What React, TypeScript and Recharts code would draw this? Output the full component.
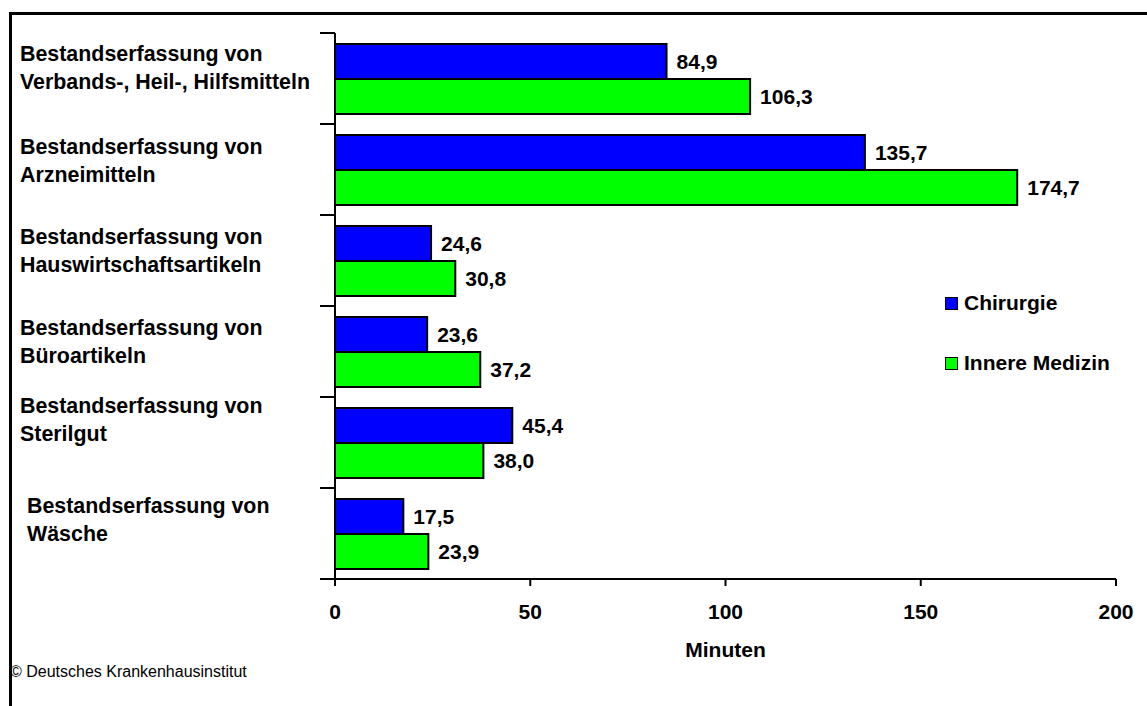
import { Bar, BarChart, LabelList, Legend, XAxis, YAxis } from 'recharts'

const categoryHead = 'Bestandserfassung von'
const categoryNames = ['Verbands-, Heil-, Hilfsmitteln', 'Arzneimitteln', 'Hauswirtschaftsartikeln', 'Büroartikeln', 'Sterilgut', 'Wäsche']
const chirurgie = [84.9, 135.7, 24.6, 23.6, 45.4, 17.5]
const innereMedizin = [106.3, 174.7, 30.8, 37.2, 38.0, 23.9]
const xTicks = [0, 50, 100, 150, 200]

const series = [
  { key: 'chirurgie', name: 'Chirurgie', color: '#0000ff' },
  { key: 'innere', name: 'Innere Medizin', color: '#00ff00' },
]

const data = categoryNames.map((name, i) => ({ name, chirurgie: chirurgie[i], innere: innereMedizin[i] }))

const W = 1147
const H = 706
const TOP = 33
const BOTTOM = 127
const BAND = (H - TOP - BOTTOM) / data.length
const FONT = '"Liberation Sans", Arial, sans-serif'

// the labels in the original are not quite centred in their bands
const labelDy = [0, 2, 1, 1, -12, -3]
const labelDx = [0, 0, 0, 0, 0, 7]

const fmt = (v: any) => Number(v).toFixed(1).replace('.', ',')

function CategoryTick(props: any) {
  const { x, y, payload, index } = props
  const top = y - BAND / 2
  const base = top + 28 + labelDy[index]
  return (
    <g>
      <line x1={x - 15} x2={x} y1={top} y2={top} stroke="#000" strokeWidth={2} />
      {index === data.length - 1 && <line x1={x - 15} x2={x} y1={y + BAND / 2} y2={y + BAND / 2} stroke="#000" strokeWidth={2} />}
      <text x={20 + labelDx[index]} y={base} fontFamily={FONT} fontSize={21.4} fontWeight="bold" fill="#000">
        <tspan x={20 + labelDx[index]} y={base}>{categoryHead}</tspan>
        <tspan x={20 + labelDx[index]} y={base + 28}>{payload.value}</tspan>
      </text>
    </g>
  )
}

function LegendBox() {
  return (
    <div style={{ fontFamily: FONT, fontSize: 21, fontWeight: 'bold' }}>
      {series.map((s, i) => (
        <div key={s.key} style={{ display: 'flex', alignItems: 'center', height: 16, marginBottom: i === 0 ? 44 : 0 }}>
          <span style={{ width: 11, height: 11, background: s.color, border: '1.5px solid #000', marginRight: 6 }} />
          <span>{s.name}</span>
        </div>
      ))}
    </div>
  )
}

export default function App() {
  return (
    <div style={{ position: 'absolute', left: 0, top: 0, width: W, height: H, background: '#fff', overflow: 'hidden' }}>
      <div style={{ position: 'absolute', left: 9, top: 12, width: W, height: H, borderTop: '3px solid #000', borderLeft: '3px solid #000' }} />
      <BarChart
        width={W}
        height={H}
        data={data}
        layout="vertical"
        margin={{ top: TOP, right: 31, bottom: 0, left: 0 }}
        barCategoryGap="12%"
        barGap={0}
      >
        <XAxis
          type="number"
          domain={[0, 200]}
          ticks={xTicks}
          height={BOTTOM}
          stroke="#000"
          strokeWidth={2}
          tickSize={7}
          tickMargin={18}
          tick={{ fill: '#000', fontSize: 21, fontWeight: 'bold', fontFamily: FONT }}
          label={{ value: 'Minuten', position: 'insideBottom', offset: 49, fill: '#000', fontSize: 21, fontWeight: 'bold', fontFamily: FONT }}
        />
        <YAxis
          type="category"
          dataKey="name"
          width={335}
          stroke="#000"
          strokeWidth={2}
          tickLine={false}
          tickSize={0}
          tickMargin={0}
          tick={<CategoryTick />}
          interval={0}
        />
        <Legend
          layout="vertical"
          align="center"
          verticalAlign="middle"
          wrapperStyle={{ left: 945, top: 295, width: 200 }}
          content={<LegendBox />}
        />
        {series.map((s) => (
          <Bar key={s.key} dataKey={s.key} name={s.name} fill={s.color} stroke="#000" strokeWidth={2} isAnimationActive={false}>
            <LabelList dataKey={s.key} position="right" offset={10} formatter={fmt} fill="#000" fontSize={21} fontWeight="bold" fontFamily={FONT} />
          </Bar>
        ))}
      </BarChart>
      <svg style={{ position: 'absolute', left: 0, top: 0 }} width={300} height={H}>
        <text x={10} y={677} fontFamily={FONT} fontSize={16} fill="#000">© Deutsches Krankenhausinstitut</text>
      </svg>
    </div>
  )
}
